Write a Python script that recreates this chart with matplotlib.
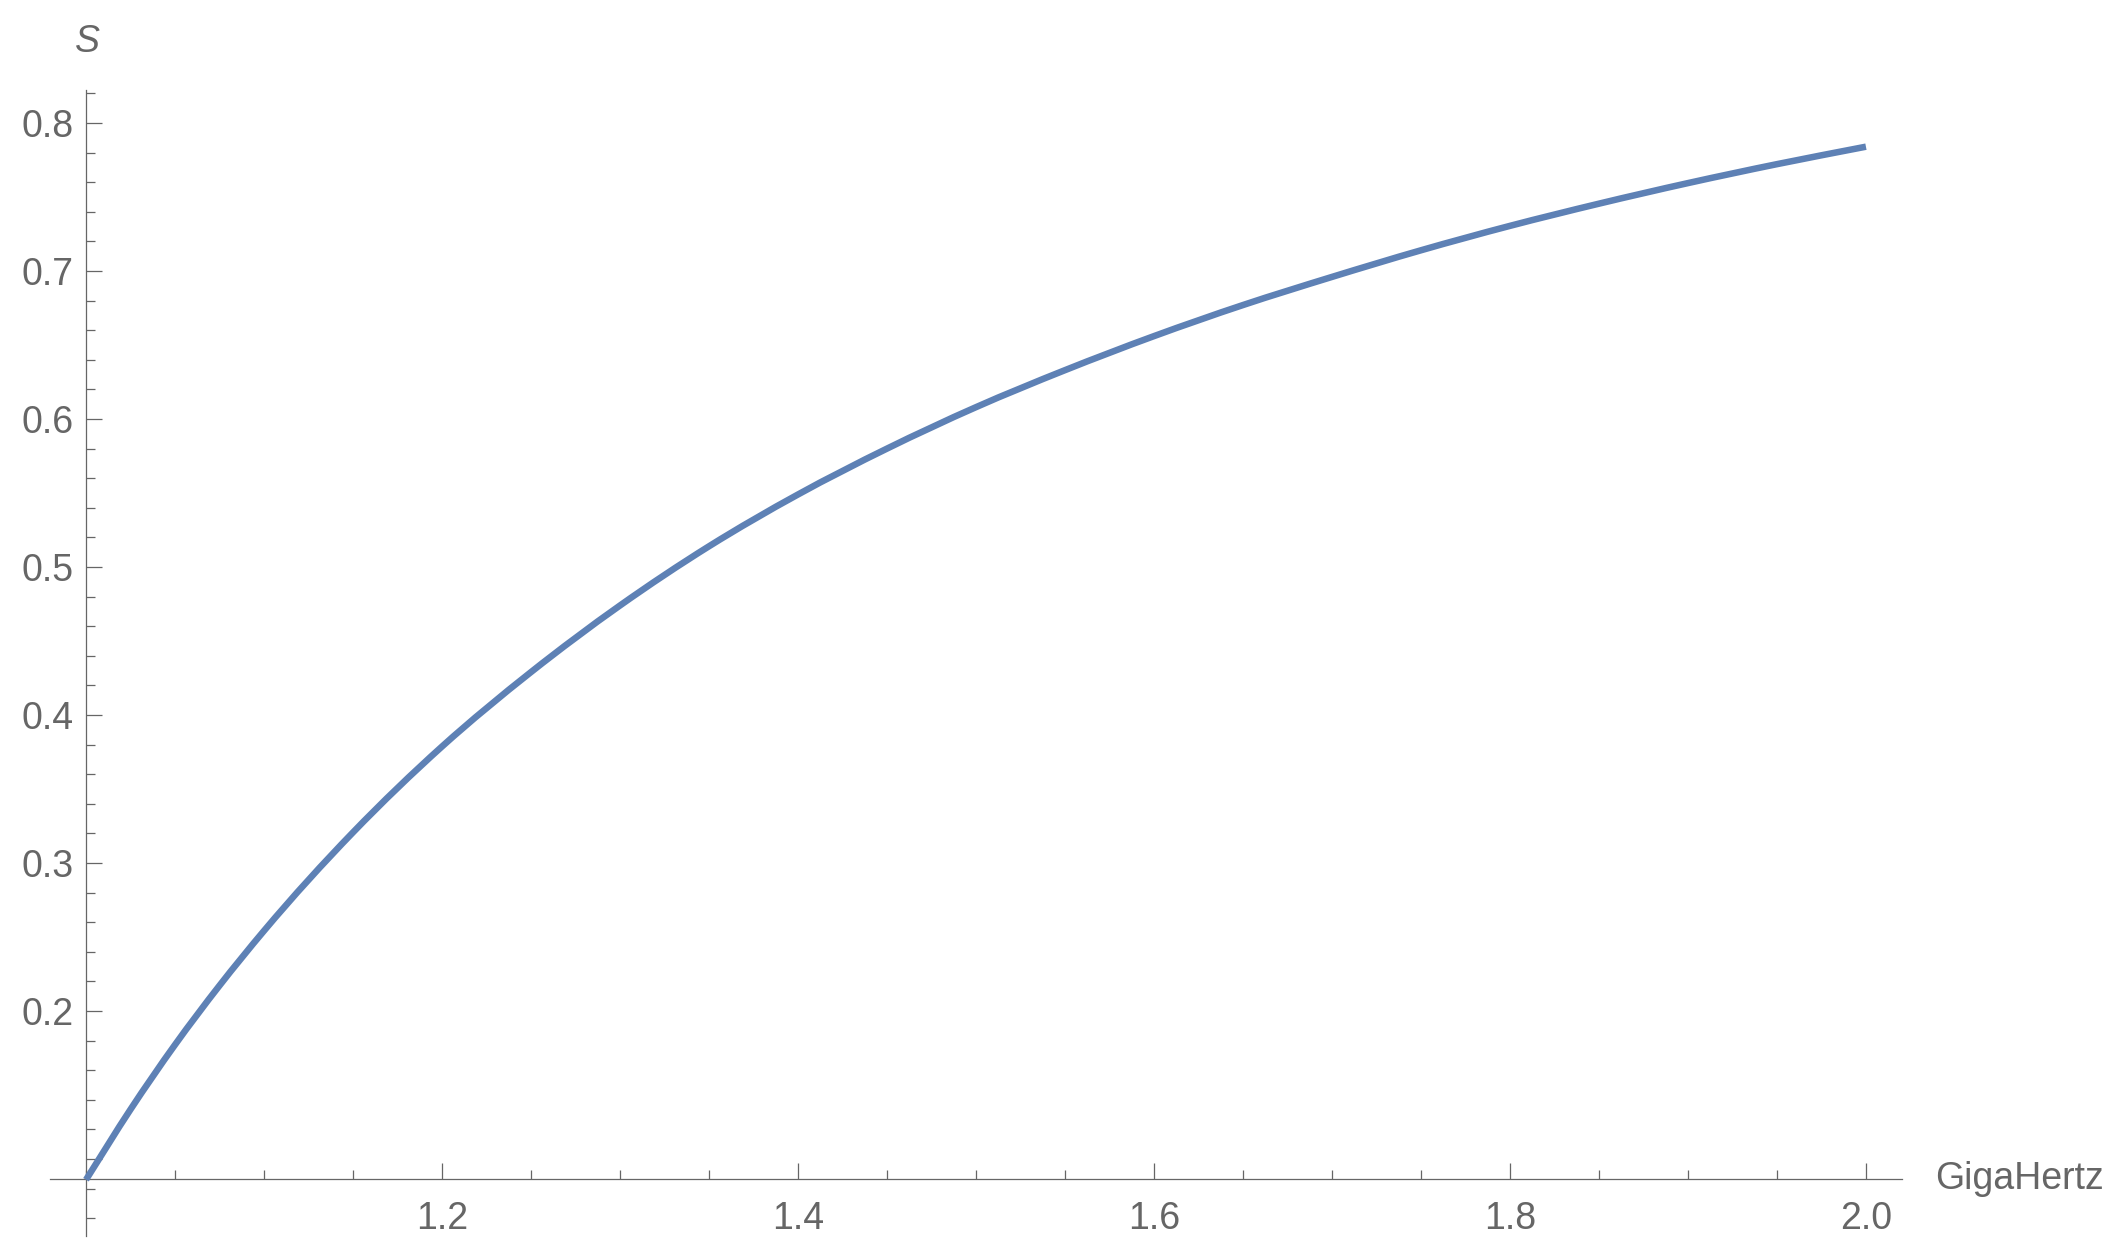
import matplotlib.pyplot as plt
from matplotlib.patches import PathPatch
from matplotlib.path import Path
from matplotlib.ticker import FixedLocator, MultipleLocator

# values (hand-evened to remove reading jitter)
freq_ghz = [1.0, 1.025, 1.05, 1.075, 1.1, 1.15, 1.2, 1.25, 1.3, 1.35, 1.4, 1.45,
            1.5, 1.55, 1.6, 1.65, 1.7, 1.75, 1.8, 1.85, 1.9, 1.95, 2.0]
s_values = [0.086, 0.1335, 0.1772, 0.2172, 0.2542, 0.3207, 0.3787, 0.429, 0.474, 0.514,
            0.549, 0.580, 0.608, 0.633, 0.656, 0.677, 0.696, 0.714, 0.7305, 0.7455,
            0.7594, 0.7722, 0.784]

x_major = [1.2, 1.4, 1.6, 1.8, 2.0]
y_major = [0.1, 0.2, 0.3, 0.4, 0.5, 0.6, 0.7, 0.8]
x_origin = 1.0
y_origin = 0.0865

GRAY = "#666666"
LINE = "#5E81B5"


def smooth_path(xs, ys):
    # cubic hermite segments through the read points, drawn as bezier curves
    n = len(xs)
    slopes = []
    for i in range(n):
        if i == 0 or i == n - 1:
            lo, hi = max(i - 1, 0), min(i + 1, n - 1)
            slopes.append((ys[hi] - ys[lo]) / (xs[hi] - xs[lo]))
            continue
        h0, h1 = xs[i] - xs[i - 1], xs[i + 1] - xs[i]
        d0 = (ys[i] - ys[i - 1]) / h0
        d1 = (ys[i + 1] - ys[i]) / h1
        slopes.append((d0 * h1 + d1 * h0) / (h0 + h1))
    verts = [(xs[0], ys[0])]
    codes = [Path.MOVETO]
    for i in range(n - 1):
        h = xs[i + 1] - xs[i]
        verts += [(xs[i] + h / 3, ys[i] + slopes[i] * h / 3),
                  (xs[i + 1] - h / 3, ys[i + 1] - slopes[i + 1] * h / 3),
                  (xs[i + 1], ys[i + 1])]
        codes += [Path.CURVE4] * 3
    return Path(verts, codes)


plt.rcParams["font.family"] = ["Liberation Sans", "DejaVu Sans"]

fig = plt.figure(figsize=(21.18, 12.58), dpi=100)
ax = fig.add_axes([0.0238, 0.0175, 0.874, 0.9106])

curve = PathPatch(smooth_path(freq_ghz, s_values), fill=False, edgecolor=LINE,
                  lw=4.7, capstyle="butt", joinstyle="round", clip_on=False, zorder=3)
ax.add_patch(curve)

ax.set_xlim(0.98, 2.02)
ax.set_ylim(0.048, 0.822)

for side in ("top", "right"):
    ax.spines[side].set_visible(False)
ax.spines["left"].set_position(("data", x_origin))
ax.spines["bottom"].set_position(("data", y_origin))
for side in ("left", "bottom"):
    ax.spines[side].set_color(GRAY)
    ax.spines[side].set_linewidth(0.9)

ax.xaxis.set_major_locator(FixedLocator(x_major))
ax.xaxis.set_minor_locator(MultipleLocator(0.05))
ax.yaxis.set_major_locator(FixedLocator(y_major))
ax.yaxis.set_minor_locator(MultipleLocator(0.02))
ax.set_xticklabels([f"{v:.1f}" for v in x_major])
ax.set_yticklabels(["" if v < 0.15 else f"{v:.1f}" for v in y_major])

ax.tick_params(which="both", direction="in", colors=GRAY, width=0.9,
               labelsize=27, labelcolor=GRAY)
ax.tick_params(which="major", length=11.5)
ax.tick_params(which="minor", length=6.5)
ax.tick_params(axis="x", which="major", pad=16)
ax.tick_params(axis="y", which="major", pad=9)

ax.text(2.0388, y_origin, "GigaHertz", fontsize=27, color=GRAY,
        ha="left", va="center", clip_on=False)
ax.text(x_origin + 0.001, 0.855, "S", fontsize=27, color=GRAY, fontstyle="italic",
        ha="center", va="center", clip_on=False)

fig.savefig("out.png", dpi=100)
